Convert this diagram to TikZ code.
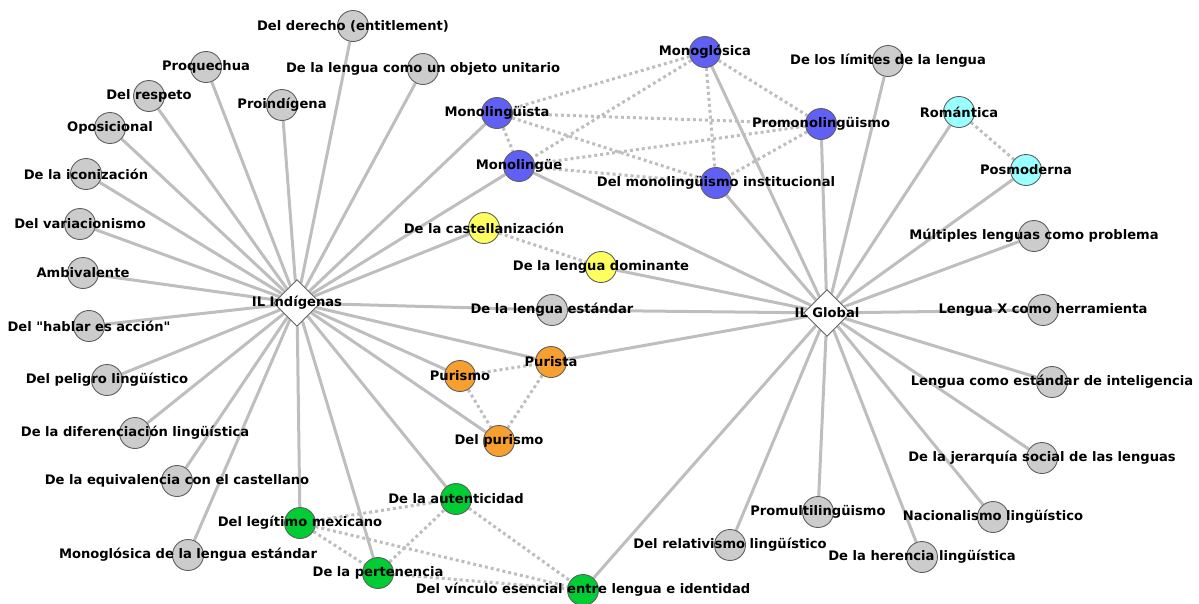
\documentclass[tikz,border=0pt]{standalone}
\usepackage{fontspec}
\newfontfamily\labelfont{DejaVu Sans}
\usetikzlibrary{shapes.geometric,backgrounds}

\definecolor{tiegray}{RGB}{190,190,190}
\definecolor{rimgray}{RGB}{95,95,95}
\definecolor{ngray}{RGB}{204,204,204}
\definecolor{nblue}{RGB}{96,96,245}
\definecolor{nyellow}{RGB}{255,255,96}
\definecolor{norange}{RGB}{247,160,48}
\definecolor{ngreen}{RGB}{0,204,51}
\definecolor{ncyan}{RGB}{153,255,255}

\begin{document}
\begin{tikzpicture}[x=1pt,y=-1pt,
  every label/.style={font=\labelfont\bfseries\fontsize{13.1}{15}\selectfont, inner sep=0pt},
  stance/.style={circle, draw=rimgray, line width=0.9pt, minimum size=31pt, inner sep=0pt},
  hub/.style={diamond, draw=rimgray, fill=white, line width=0.9pt, minimum width=47pt, minimum height=47pt, inner sep=0pt},
  tie/.style={tiegray, line width=3pt},
  link/.style={tiegray, line width=3pt, dash pattern=on 3pt off 3pt}]
  \useasboundingbox (0,0) rectangle (1199,603);

  % Hubs
  \node[hub, label={center:IL Indígenas}] (indigenas) at (297,303) {};
  \node[hub, label={center:IL Global}] (global) at (827,313) {};

  % Grey stances
  \node[stance, fill=ngray, label={center:Del derecho (entitlement)}] (derecho) at (353,26) {};
  \node[stance, fill=ngray, label={center:Proquechua}] (proquechua) at (206,67) {};
  \node[stance, fill=ngray, label={center:De la lengua como un objeto unitario}] (unitario) at (423,69) {};
  \node[stance, fill=ngray, label={center:Del respeto}] (respeto) at (149,96) {};
  \node[stance, fill=ngray, label={center:Proindígena}] (proindigena) at (282,105) {};
  \node[stance, fill=ngray, label={center:Oposicional}] (oposicional) at (110,128) {};
  \node[stance, fill=ngray, label={center:De la iconización}] (iconizacion) at (86,174) {};
  \node[stance, fill=ngray, label={center:Del variacionismo}] (variacionismo) at (80,224) {};
  \node[stance, fill=ngray, label={center:Ambivalente}] (ambivalente) at (83,273) {};
  \node[stance, fill=ngray, label={center:Del "hablar es acción"}] (hablar) at (89,326) {};
  \node[stance, fill=ngray, label={center:Del peligro lingüístico}] (peligro) at (107,380) {};
  \node[stance, fill=ngray, label={center:De la diferenciación lingüística}] (diferenciacion) at (135,433) {};
  \node[stance, fill=ngray, label={center:De la equivalencia con el castellano}] (equivalencia) at (177,481) {};
  \node[stance, fill=ngray, label={center:Monoglósica de la lengua estándar}] (monoestandar) at (188,555) {};
  \node[stance, fill=ngray, label={center:De la lengua estándar}] (estandar) at (552,310) {};
  \node[stance, fill=ngray, label={center:De los límites de la lengua}] (limites) at (888,61) {};
  \node[stance, fill=ngray, label={center:Múltiples lenguas como problema}] (multiples) at (1034,236) {};
  \node[stance, fill=ngray, label={center:Lengua X como herramienta}] (herramienta) at (1043,310) {};
  \node[stance, fill=ngray, label={center:Lengua como estándar de inteligencia}] (inteligencia) at (1052,382) {};
  \node[stance, fill=ngray, label={center:De la jerarquía social de las lenguas}] (jerarquia) at (1042,458) {};
  \node[stance, fill=ngray, label={center:Nacionalismo lingüístico}] (nacionalismo) at (993,517) {};
  \node[stance, fill=ngray, label={center:De la herencia lingüística}] (herencia) at (922,557) {};
  \node[stance, fill=ngray, label={center:Promultilingüismo}] (promulti) at (818,512) {};
  \node[stance, fill=ngray, label={center:Del relativismo lingüístico}] (relativismo) at (730,545) {};

  % Blue stances
  \node[stance, fill=nblue, label={center:Monoglósica}] (monoglosica) at (705,52) {};
  \node[stance, fill=nblue, label={center:Monolingüista}] (monolinguista) at (497,113) {};
  \node[stance, fill=nblue, label={center:Monolingüe}] (monolingue) at (519,166) {};
  \node[stance, fill=nblue, label={center:Promonolingüismo}] (promono) at (821,124) {};
  \node[stance, fill=nblue, label={center:Del monolingüismo institucional}] (institucional) at (716,183) {};

  % Yellow, orange, cyan stances
  \node[stance, fill=nyellow, label={center:De la castellanización}] (castellanizacion) at (484,228) {};
  \node[stance, fill=nyellow, label={center:De la lengua dominante}] (dominante) at (601,267) {};
  \node[stance, fill=norange, label={center:Purismo}] (purismo) at (460,376) {};
  \node[stance, fill=norange, label={center:Purista}] (purista) at (551,362) {};
  \node[stance, fill=norange, label={center:Del purismo}] (delpurismo) at (499,441) {};
  \node[stance, fill=ncyan, label={center:Romántica}] (romantica) at (959,112) {};
  \node[stance, fill=ncyan, label={center:Posmoderna}] (posmoderna) at (1026,170) {};

  % Green stances
  \node[stance, fill=ngreen, label={center:Del legítimo mexicano}] (legitimo) at (300,523) {};
  \node[stance, fill=ngreen, label={center:De la pertenencia}] (pertenencia) at (378,573) {};
  \node[stance, fill=ngreen, label={center:De la autenticidad}] (autenticidad) at (456,499) {};
  \node[stance, fill=ngreen, label={center:Del vínculo esencial entre lengua e identidad}] (vinculo) at (583,590) {};

  \begin{pgfonlayer}{background}
    % Solid ties to the hubs
    \foreach \n in {derecho,proquechua,unitario,respeto,proindigena,oposicional,iconizacion,
      variacionismo,ambivalente,hablar,peligro,diferenciacion,equivalencia,monoestandar,
      legitimo,pertenencia,autenticidad,delpurismo,purismo,purista,estandar,
      castellanizacion,monolingue,monolinguista}
      \draw[tie] (indigenas) -- (\n);
    \foreach \n in {monoglosica,institucional,promono,limites,romantica,posmoderna,multiples,
      herramienta,inteligencia,jerarquia,nacionalismo,herencia,promulti,relativismo,
      vinculo,purista,estandar,dominante,monolingue}
      \draw[tie] (global) -- (\n);

    % Dotted links inside each group
    \foreach \a/\b in {monoglosica/monolinguista,monoglosica/monolingue,monoglosica/promono,
      monoglosica/institucional,monolinguista/monolingue,monolinguista/promono,
      monolinguista/institucional,monolingue/promono,monolingue/institucional,
      promono/institucional,castellanizacion/dominante,purismo/purista,purismo/delpurismo,
      purista/delpurismo,legitimo/autenticidad,legitimo/pertenencia,legitimo/vinculo,
      pertenencia/autenticidad,pertenencia/vinculo,autenticidad/vinculo,romantica/posmoderna}
      \draw[link] (\a) -- (\b);
  \end{pgfonlayer}
\end{tikzpicture}
\end{document}
